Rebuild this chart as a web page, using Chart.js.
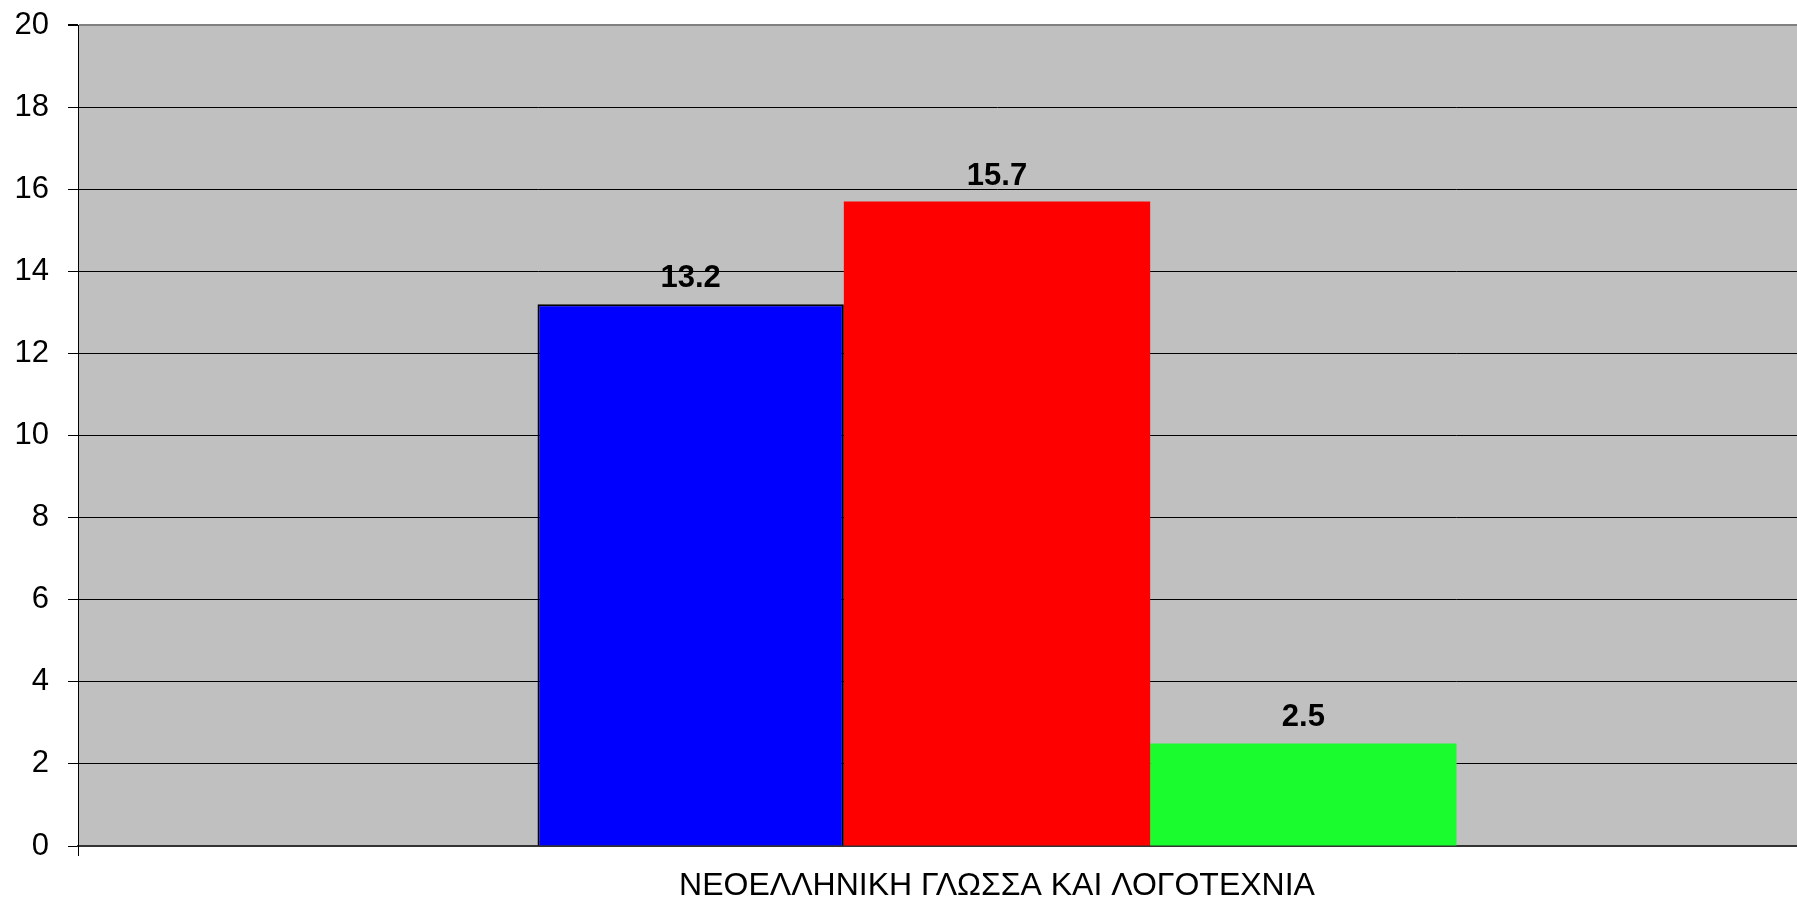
<!DOCTYPE html>
<html>
<head>
<meta charset="utf-8">
<script src="https://cdn.jsdelivr.net/npm/chart.js@4/dist/chart.umd.min.js"></script>
<style>
  html, body { margin: 0; padding: 0; background: #fff; overflow: hidden; }
  #wrap { position: absolute; left: 0; top: 0; width: 1916px; height: 899px; }
</style>
</head>
<body>
<div id="wrap"><canvas id="iChart" width="1916" height="899"></canvas></div>
<script>
// data
var categories = ['ΝΕΟΕΛΛΗΝΙΚΗ ΓΛΩΣΣΑ ΚΑΙ ΛΟΓΟΤΕΧΝΙΑ'];
var series1 = [13.2];
var series2 = [15.7];
var series3 = [2.5];
var yTicks = [0, 2, 4, 6, 8, 10, 12, 14, 16, 18, 20];

var FONT = "'Liberation Sans', Arial, sans-serif";

// gray plot area
var plotBg = {
  id: 'plotBg',
  beforeDraw: function (chart) {
    var a = chart.chartArea, c = chart.ctx;
    c.save();
    c.fillStyle = '#c0c0c0';
    c.fillRect(a.left, a.top, a.right - a.left, a.bottom - a.top);
    c.restore();
  }
};

// value labels over the bars
var barValues = {
  id: 'barValues',
  afterDatasetsDraw: function (chart) {
    var c = chart.ctx;
    c.save();
    c.font = 'bold 31px ' + FONT;
    c.fillStyle = '#000';
    c.textAlign = 'center';
    c.textBaseline = 'alphabetic';
    chart.data.datasets.forEach(function (ds, i) {
      chart.getDatasetMeta(i).data.forEach(function (bar, j) {
        c.fillText(String(ds.data[j]), bar.x, bar.y - 17);
      });
    });
    c.restore();
  }
};

var ctx = document.getElementById('iChart').getContext('2d');
var iChart = new Chart(ctx, {
  type: 'bar',
  data: {
    labels: categories,
    datasets: [
      { label: 's1', data: series1, backgroundColor: '#0000ff', borderColor: '#000', borderWidth: 2 },
      { label: 's2', data: series2, backgroundColor: '#ff0000', borderWidth: 0 },
      { label: 's3', data: series3, backgroundColor: '#1bfc2e', borderWidth: 0 }
    ]
  },
  options: {
    responsive: false,
    animation: false,
    devicePixelRatio: 1,
    layout: { padding: { top: 25, right: 0, left: 0, bottom: 0 } },
    datasets: { bar: { categoryPercentage: 0.5, barPercentage: 1.0 } },
    plugins: { legend: { display: false }, tooltip: { enabled: false } },
    scales: {
      x: {
        afterFit: function (s) { s.height = 53; s.paddingLeft = 0; s.paddingRight = 0; },
        grid: { drawOnChartArea: false, tickLength: 10, tickColor: '#000', lineWidth: 1 },
        border: { color: '#333', width: 2 },
        ticks: { color: '#000', font: { family: FONT, size: 32 }, padding: 11 }
      },
      y: {
        min: 0,
        max: 20,
        afterFit: function (s) { s.width = 78; s.paddingTop = 0; s.paddingBottom = 0; },
        afterBuildTicks: function (s) { s.ticks = yTicks.map(function (v) { return { value: v }; }); },
        grid: {
          color: function (c) { return c.tick && c.tick.value === 20 ? '#808080' : '#000'; },
          lineWidth: function (c) { return c.tick && c.tick.value === 20 ? 2 : 1; },
          tickColor: '#000',
          tickLength: 10
        },
        border: { color: '#000', width: 1 },
        ticks: { color: '#000', font: { family: FONT, size: 31 }, padding: 19 }
      }
    }
  },
  plugins: [plotBg, barValues]
});
</script>
</body>
</html>
